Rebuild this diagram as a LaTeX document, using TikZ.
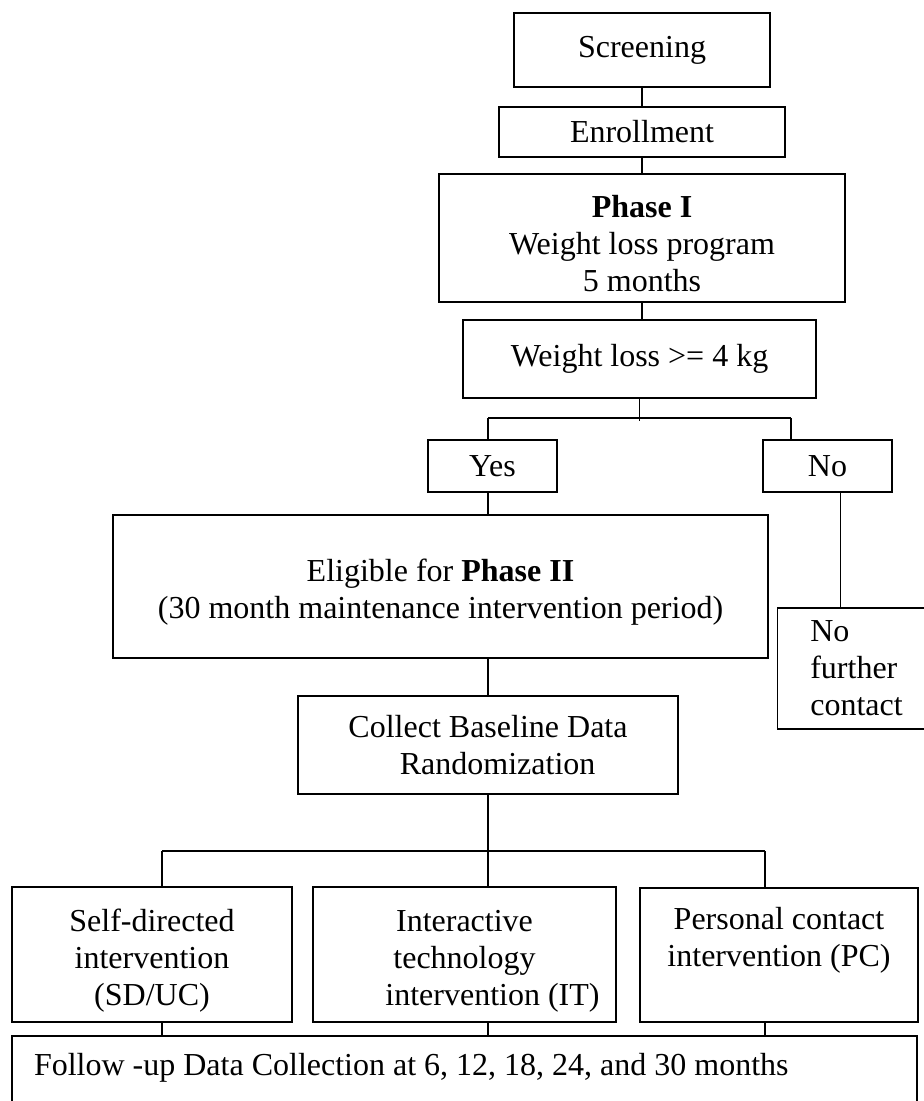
\documentclass[tikz,border=0pt]{standalone}
\usepackage{fontspec}
\setmainfont{Liberation Serif}
\tikzset{
	box/.style = {draw, rectangle, line width=0.8pt, inner sep=0pt, align=center,
		font=\fontsize{16pt}{18.5pt}\selectfont},
	link/.style = {line width=0.8pt}
}

\begin{document}
\begin{tikzpicture}[x=0.5pt,y=-0.5pt]
	\path[use as bounding box, clip] (0,0) rectangle (924,1101);
	% phase I
	\node[box, minimum width=128pt, minimum height=37pt] (scr) at (642,50) {Screening};
	\node[box, minimum width=143pt, minimum height=25pt] (enr) at (642,132) {Enrollment};
	\node[box, minimum width=203pt, minimum height=64pt] (ph1) at (642,238)
		{\rule{0pt}{17pt}\textbf{Phase I}\\Weight loss program\\5 months};
	\node[box, minimum width=176.5pt, minimum height=39pt] (wl) at (639.5,359) {Weight loss >= 4 kg};
	\node[box, minimum width=64.5pt, minimum height=26pt] (yes) at (492.5,466) {Yes};
	\node[box, minimum width=64.5pt, minimum height=26pt] (no) at (827.5,466) {No};
	% phase II
	\node[box, minimum width=327.5pt, minimum height=71.5pt] (elig) at (440.5,586.5)
		{\rule{0pt}{17pt}Eligible for \textbf{Phase II}\\(30 month maintenance intervention period)};
	\node[box, minimum width=79pt, minimum height=60.5pt, align=left] (nfc) at (856.5,668.5)
		{No\\further\\contact};
	\node[box, minimum width=190pt, minimum height=49pt] (col) at (488,745)
		{Collect Baseline Data\\\hspace*{0.6em}Randomization};
	\node[box, minimum width=140pt, minimum height=67.5pt] (sd) at (152,954.5)
		{\rule{0pt}{17pt}Self-directed\\intervention\\(SD/UC)};
	\node[box, minimum width=151.5pt, minimum height=67.5pt] (it) at (464.5,954.5)
		{\rule{0pt}{17pt}Interactive\\technology\\\hspace*{1.75em}intervention (IT)};
	\node[box, minimum width=139pt, minimum height=67pt] (pc) at (779,955)
		{Personal contact\\intervention (PC)\\\mbox{}};
	\node[box, anchor=north, text width=430.5pt, inner xsep=11pt, inner ysep=8.5pt,
		text depth=30pt, align=flush left] (fu) at (464.5,1035)
		{Follow -up Data Collection at 6, 12, 18, 24, and 30 months};

	\coordinate (br) at (640,418);
	\coordinate (brl) at (488,418);
	\coordinate (brr) at (791,418);
	\coordinate (bus) at (488,851);
	\coordinate (busl) at (162,851);
	\coordinate (busr) at (765,851);

	\draw[link] (scr) -- (enr);
	\draw[link] (enr) -- (enr.south |- ph1.north);
	\draw[link] (ph1.south) -- (ph1.south |- wl.north);
	\draw[link] (wl.south) -- ([yshift=-1.5pt]wl.south |- br);
	\draw[link] (brl) -- (brr);
	\draw[link] (brl) -- (brl |- yes.north);
	\draw[link] (brr) -- (brr |- no.north);
	\draw[link] (brl |- yes.south) -- (brl |- elig.north);
	\draw[link] ([xshift=6.5pt]no.south) -- ([xshift=6.5pt]no.south |- nfc.north);
	\draw[link] (col.north |- elig.south) -- (col.north);
	\draw[link] (col.south) -- (bus);
	\draw[link] (busl) -- (busr);
	\draw[link] (busl) -- (busl |- sd.north);
	\draw[link] (bus) -- (bus |- it.north);
	\draw[link] (busr) -- (busr |- pc.north);
	\draw[link] (busl |- sd.south) -- (busl |- fu.north);
	\draw[link] (bus |- it.south) -- (bus |- fu.north);
	\draw[link] (busr |- pc.south) -- (busr |- fu.north);
\end{tikzpicture}
\end{document}
